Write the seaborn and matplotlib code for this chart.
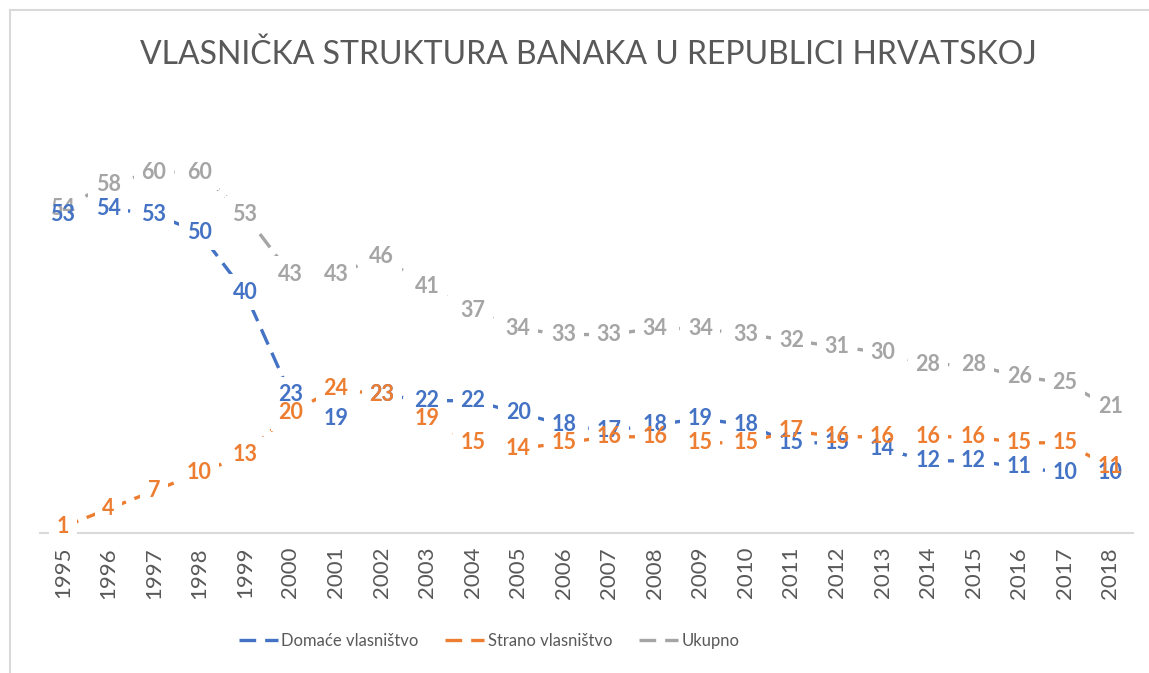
import seaborn as sns
import matplotlib.pyplot as plt
import pandas as pd
from matplotlib.lines import Line2D

# Data
years = list(range(1995, 2019))
domace = [53, 54, 53, 50, 40, 23, 19, 23, 22, 22, 20, 18, 17, 18, 19, 18, 15, 15, 14, 12, 12, 11, 10, 10]
strano = [1, 4, 7, 10, 13, 20, 24, 23, 19, 15, 14, 15, 16, 16, 15, 15, 17, 16, 16, 16, 16, 15, 15, 11]
ukupno = [54, 58, 60, 60, 53, 43, 43, 46, 41, 37, 34, 33, 33, 34, 34, 33, 32, 31, 30, 28, 28, 26, 25, 21]

names = ['Domaće vlasništvo', 'Strano vlasništvo', 'Ukupno']
colors = {'Domaće vlasništvo': '#4472C4', 'Strano vlasništvo': '#ED7D31', 'Ukupno': '#A5A5A5'}

df = pd.DataFrame({
    'pos': list(range(len(years))) * 3,
    'value': domace + strano + ukupno,
    'series': [names[0]] * len(years) + [names[1]] * len(years) + [names[2]] * len(years),
})

sns.set_style('white')
plt.rcParams['font.family'] = ['Lato', 'DejaVu Sans']

fig = plt.figure(figsize=(11.49, 6.73), dpi=100)
ax = fig.add_axes([40 / 1149, 140 / 673, 1093 / 1149, 421 / 673])

sns.lineplot(data=df, x='pos', y='value', hue='series', style='series',
             hue_order=names, style_order=names, palette=colors,
             dashes=[(5, 2.7)] * 3, linewidth=2.4, ax=ax, legend=False, zorder=2)

ax.set_xlim(-0.5, len(years) - 0.5)
ax.set_ylim(0, 70)

# data labels: white mask under all labels, then coloured text (orange on top)
label_order = [('Ukupno', ukupno), ('Domaće vlasništvo', domace), ('Strano vlasništvo', strano)]
for name, vals in label_order:
    for i, v in enumerate(vals):
        ax.text(i, v, str(v), ha='center', va='center', fontsize=15.5, fontweight='bold',
                color='white', zorder=3,
                bbox=dict(boxstyle='square,pad=0.35', fc='white', ec='none'))
for k, (name, vals) in enumerate(label_order):
    for i, v in enumerate(vals):
        ax.text(i, v, str(v), ha='center', va='center', fontsize=15.5, fontweight='bold',
                color=colors[name], zorder=5 + k)

ax.set_xticks(range(len(years)))
ax.set_xticklabels([str(y) for y in years], rotation=90, fontsize=16, color='#595959')
ax.set_yticks([])
ax.tick_params(axis='x', length=0, pad=10)
ax.set_xlabel('')
ax.set_ylabel('')
for s in ['top', 'right', 'left']:
    ax.spines[s].set_visible(False)
ax.spines['bottom'].set_color('#D9D9D9')
ax.spines['bottom'].set_linewidth(1.5)

fig.text(588 / 1149, 1 - 55 / 673, 'VLASNIČKA STRUKTURA BANAKA U REPUBLICI HRVATSKOJ',
         ha='center', va='center', fontsize=23, color='#595959')

handles = [Line2D([0], [0], color=colors[n], lw=2.4, dashes=(5, 2.7)) for n in names]
leg = fig.legend(handles, names, loc='center', bbox_to_anchor=(489 / 1149, 1 - 641 / 673),
                 ncol=3, frameon=False, fontsize=12, handlelength=2.35, handletextpad=0.2,
                 columnspacing=1.6)
for t in leg.get_texts():
    t.set_color('#595959')

# chart frame (left and top edges visible in the crop)
fig.add_artist(Line2D([10 / 1149, 10 / 1149], [0, 1 - 10 / 673], color='#D9D9D9', lw=1.5))
fig.add_artist(Line2D([10 / 1149, 1], [1 - 10 / 673, 1 - 10 / 673], color='#D9D9D9', lw=1.5))

fig.savefig('out.png', dpi=100)
